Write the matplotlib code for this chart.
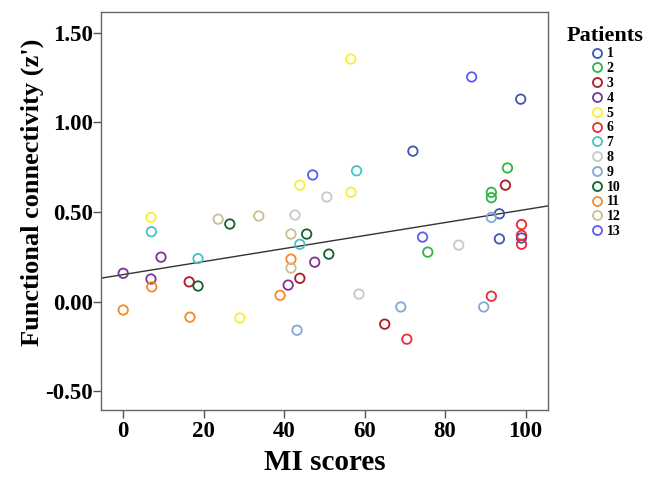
import matplotlib.pyplot as plt
from matplotlib.lines import Line2D
import numpy as np

plt.rcParams['font.family'] = ['Liberation Serif', 'DejaVu Serif']
plt.rcParams['font.weight'] = 'bold'

patients = [str(i) for i in range(1, 14)]
colors = ['#3E56AE', '#2DB54A', '#A81C24', '#7A3595', '#F7F030', '#EC2C34',
          '#46C1C4', '#C8C8C8', '#7FA8DA', '#155E30', '#F58A25', '#C7C18C',
          '#5A5CF2']

mi = [
    [98.8, 72.0, 93.5, 93.5, 99.0],
    [95.5, 91.5, 91.5, 75.7],
    [95.0, 16.4, 43.9, 65.0],
    [0.0, 9.4, 6.9, 41.0, 47.6],
    [56.6, 43.9, 56.6, 6.9, 29.0],
    [99.0, 99.0, 99.0, 91.5, 70.5],
    [58.0, 7.0, 18.6, 43.9],
    [50.6, 42.7, 58.6, 83.4],
    [43.2, 69.0, 89.6, 91.5],
    [26.5, 45.6, 51.1, 18.6],
    [7.1, 0.0, 16.6, 39.0, 41.7],
    [23.6, 33.7, 41.7, 41.7],
    [86.6, 47.1, 74.4],
]
fc = [
    [1.13, 0.84, 0.49, 0.35, 0.355],
    [0.746, 0.61, 0.58, 0.276],
    [0.65, 0.11, 0.13, -0.126],
    [0.158, 0.248, 0.126, 0.092, 0.22],
    [1.354, 0.65, 0.61, 0.47, -0.092],
    [0.43, 0.37, 0.32, 0.03, -0.21],
    [0.73, 0.39, 0.24, 0.32],
    [0.584, 0.483, 0.042, 0.315],
    [-0.16, -0.03, -0.03, 0.47],
    [0.433, 0.377, 0.265, 0.087],
    [0.082, -0.047, -0.087, 0.035, 0.237],
    [0.46, 0.478, 0.377, 0.187],
    [1.254, 0.707, 0.36],
]

fig = plt.figure(figsize=(6.52, 4.78), dpi=100)
ax = fig.add_axes([0.155, 0.142, 0.685, 0.833])

for xs, ys, c in zip(mi, fc, colors):
    ax.scatter(xs, ys, s=46, facecolors='none', edgecolors=c, linewidths=1.3, zorder=3)

# linear fit over all points
all_x = np.concatenate(mi)
all_y = np.concatenate(fc)
k, b = np.polyfit(all_x, all_y, 1)
xlim = (-5.5, 105.5)
xx = np.array(xlim)
ax.plot(xx, k * xx + b, color='#333333', lw=1, zorder=2)

ax.set_xlim(xlim)
ax.set_ylim(-0.606, 1.617)
ax.set_xticks([0, 20, 40, 60, 80, 100])
ax.set_yticks([-0.5, 0.0, 0.5, 1.0, 1.5])
ax.set_yticklabels(['-0.50', '0.00', '0.50', '1.00', '1.50'])
ax.tick_params(direction='out', length=5.8, width=1, color='#555555', labelsize=16.5)
ax.tick_params(axis='x', pad=2)
ax.tick_params(axis='y', pad=0.3)
for lab in ax.get_xticklabels() + ax.get_yticklabels():
    lab.set_fontweight('bold')
for sp in ax.spines.values():
    sp.set_color('#666666')
    sp.set_linewidth(1)

ax.set_xlabel('MI scores', fontsize=21, fontweight='bold', labelpad=5)
ax.set_ylabel("Functional connectivity (z')", fontsize=19, fontweight='bold')
ax.yaxis.set_label_coords(-0.128, 0.548)

handles = [Line2D([], [], marker='o', ls='none', markerfacecolor='none',
                  markeredgecolor=c, markeredgewidth=1.3, markersize=6.5)
           for c in colors]
leg = fig.legend(handles, patients, loc='upper left', bbox_to_anchor=(0.86, 0.958),
                 frameon=False, title='Patients', fontsize=10,
                 title_fontproperties={'size': 16, 'weight': 'bold'},
                 handletextpad=0.05, labelspacing=0.13, handlelength=1.2,
                 borderaxespad=0)
for t in leg.get_texts():
    t.set_fontweight('bold')

fig.savefig('out.png', dpi=100)
